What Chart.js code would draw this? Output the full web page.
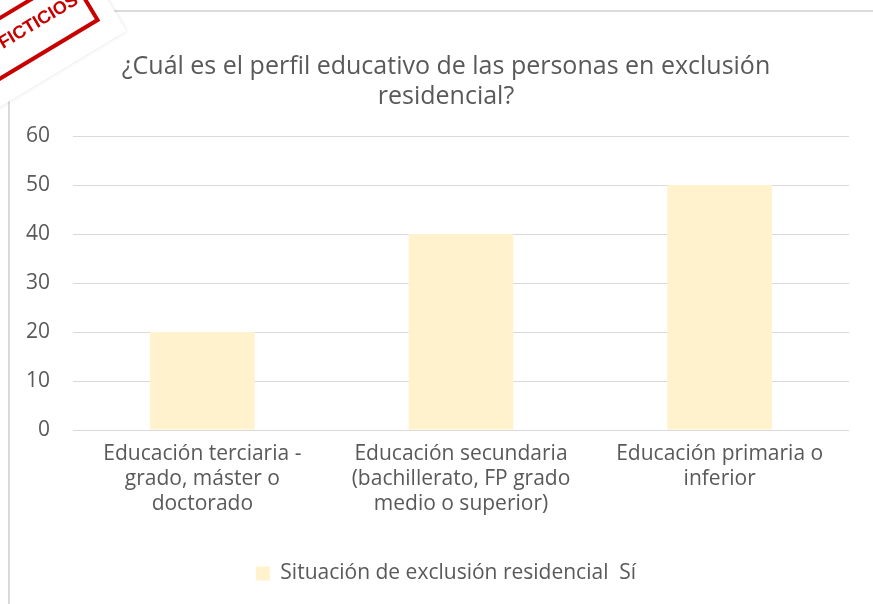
<!DOCTYPE html>
<html>
<head>
<meta charset="utf-8">
<script src="https://cdn.jsdelivr.net/npm/chart.js@4.4.1/dist/chart.umd.min.js"></script>
<style>
  body { margin: 0; background: #fff; }
</style>
</head>
<body>
<canvas id="myChart" width="873" height="604"></canvas>
<script>
var categories = [
  ["Educación terciaria -", "grado, máster o", "doctorado"],
  ["Educación secundaria", "(bachillerato, FP grado", "medio o superior)"],
  ["Educación primaria o", "inferior"]
];
var values = [20, 40, 50];
var seriesName = "Situación de exclusión residencial  Sí";
var titleLines = ["¿Cuál es el perfil educativo de las personas en exclusión", "residencial?"];
var yTicksMax = 60;
var yTicksStep = 10;

var textColor = "#595959";
var gridColor = "#D9D9D9";

// white background + the thin frame of the chart box
var frame = {
  id: "frame",
  beforeDraw: function (chart) {
    var ctx = chart.ctx;
    ctx.save();
    ctx.fillStyle = "#fff";
    ctx.fillRect(0, 0, chart.width, chart.height);
    ctx.strokeStyle = "#DADADA";
    ctx.lineWidth = 2;
    ctx.strokeRect(9, 11, chart.width + 20, chart.height + 20);
    ctx.restore();
  }
};

// the "DATOS FICTICIOS" stamp over the top-left corner
var stamp = {
  id: "stamp",
  afterDraw: function (chart) {
    var ctx = chart.ctx;
    ctx.save();
    ctx.translate(0, 46);
    ctx.rotate(-31 * Math.PI / 180);
    ctx.shadowColor = "rgba(0,0,0,0.12)";
    ctx.shadowBlur = 4;
    ctx.fillStyle = "#fff";
    ctx.fillRect(-220, -90, 336, 142);
    ctx.shadowBlur = 0;
    ctx.shadowColor = "transparent";
    ctx.strokeStyle = "#C80000";
    ctx.lineWidth = 4;
    ctx.strokeRect(-220, -24, 317, 52);
    ctx.fillStyle = "#C80000";
    ctx.font = 'bold 18px "Liberation Sans Narrow", "Liberation Sans"';
    ctx.textAlign = "right";
    ctx.textBaseline = "alphabetic";
    ctx.fillText("DATOS FICTICIOS", 90, 4);
    ctx.restore();
  }
};

new Chart("myChart", {
  type: "bar",
  data: {
    labels: categories,
    datasets: [
      {
        label: seriesName,
        data: values,
        backgroundColor: "#FFF2CC",
        borderWidth: 0,
        barPercentage: 0.405,
        categoryPercentage: 1.0
      }
    ]
  },
  options: {
    responsive: false,
    animation: false,
    layout: { padding: { left: 20, right: 1, top: 0, bottom: 10 } },
    plugins: {
      title: {
        display: true,
        text: titleLines,
        color: textColor,
        font: { family: '"Open Sans"', size: 25, weight: "normal", lineHeight: 1.2 },
        padding: { top: 52, bottom: 24 }
      },
      legend: {
        position: "bottom",
        labels: {
          color: textColor,
          font: { family: '"Open Sans"', size: 21 },
          boxWidth: 14,
          boxHeight: 14,
          padding: 42
        }
      },
      tooltip: { enabled: false }
    },
    scales: {
      x: {
        grid: { display: false },
        border: { display: false },
        ticks: {
          color: textColor,
          font: { family: '"Open Sans"', size: 21, lineHeight: 25 / 21 },
          padding: 4,
          maxRotation: 0,
          autoSkip: false
        }
      },
      y: {
        min: 0,
        max: yTicksMax,
        afterFit: function (scale) { scale.width = 53; },
        grid: { color: gridColor, lineWidth: 1, drawTicks: false },
        border: { display: false },
        ticks: {
          stepSize: yTicksStep,
          color: textColor,
          font: { family: '"Open Sans"', size: 21 },
          padding: 23
        }
      },
      // empty right-hand gutter so the plot ends where the reference does
      gutter: {
        type: "linear",
        position: "right",
        afterFit: function (scale) { scale.width = 23; },
        grid: { display: false },
        border: { display: false },
        ticks: { display: false }
      }
    }
  },
  plugins: [frame, stamp]
});
</script>
</body>
</html>
